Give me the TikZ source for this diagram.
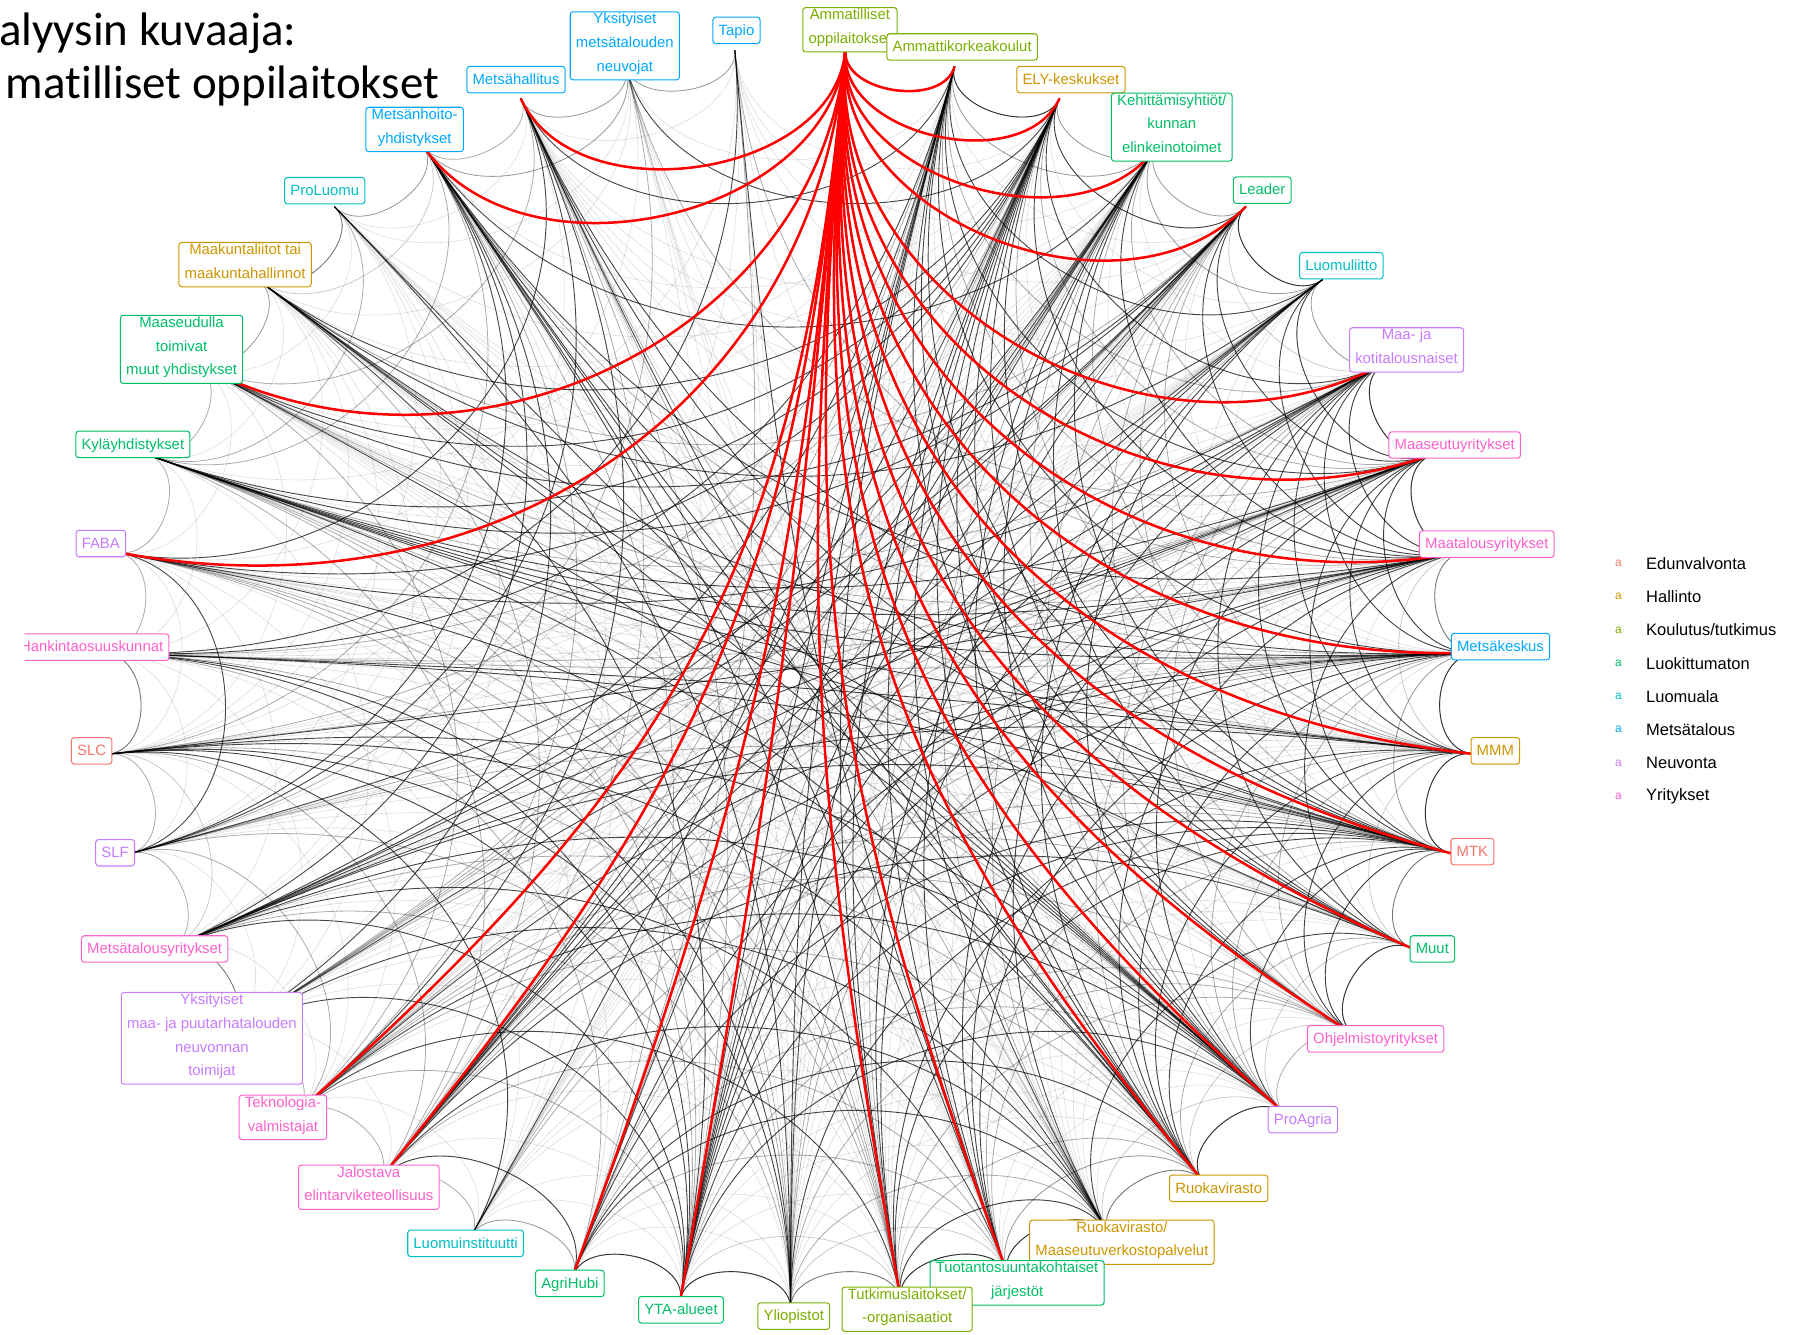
\documentclass[tikz,border=0pt]{standalone}
\usepackage{fontspec}
\setmainfont{Liberation Sans}
\newfontfamily\otsikkofont[Ligatures=NoCommon]{Carlito}
\usetikzlibrary{calc, positioning}

\definecolor{edu}{HTML}{F8766D}
\definecolor{hal}{HTML}{CD9600}
\definecolor{kou}{HTML}{7CAE00}
\definecolor{luo}{HTML}{00BE67}
\definecolor{lma}{HTML}{00BFC4}
\definecolor{met}{HTML}{00A9FF}
\definecolor{neu}{HTML}{C77CFF}
\definecolor{yri}{HTML}{FF61CC}

\newcommand\solmufont{\fontsize{13}{20.7}\selectfont}
\newcommand\selitefont{\fontsize{14.4}{17}\selectfont}
\newcommand\avainfont{\fontsize{10.5}{12}\selectfont}
\newcommand\otsikkokoko{\fontsize{41}{48}\selectfont}
% how busy each node is (0 = Ammatilliset oppilaitokset, drawn in red)
\def\painot{{0,9,9,8,8,6,7,8,9,8,8,9,7,5,9,8,8,7,8,7,9,5,4,5,5,5,5,4,5,4,4,5,5,5,3,5,4,3,3}}

% arc between two node points: both handles point to the middle
\newcommand\kaari[3]{%
  \pgfmathtruncatemacro\askel{mod(#2-#1+39,39)}%
  \pgfmathsetmacro\veto{0.85*(\askel<20 ? sin(\askel*180/39) : sin((39-\askel)*180/39))}%
  \draw[#3] (p#1) .. controls ($(p#1)!\veto!(keskus)$) and ($(p#2)!\veto!(keskus)$) .. (p#2);%
}

\tikzset{
  solmu/.style={draw=#1, text=#1, fill=white, rounded corners=2.5pt, line width=0.9pt,
    align=center, font=\solmufont, inner xsep=5pt, inner ysep=1.2pt,
    execute at begin node=\strut, execute at end node=\strut},
  ohut/.style={black, draw opacity=0.12, line width=0.6pt},
  harmaa/.style={black, draw opacity=0.33, line width=0.7pt},
  musta/.style={black, draw opacity=0.72, line width=0.8pt},
  punainen/.style={red, line width=2.2pt},
}

\begin{document}
\begin{tikzpicture}[x=1pt, y=-1pt]
\useasboundingbox (0,0) rectangle (1568,1165);
\coordinate (keskus) at (690,592);
\foreach \i in {0,...,38}
  \coordinate (p\i) at ($(keskus)+({85.4-360*\i/39}:600pt and 550pt)$);

\begin{scope}
\clip (21.5,0) rectangle (1568,1165);
% yhteydet
\foreach \i in {1,...,37} {
  \pgfmathtruncatemacro\k{\i+1}
  \foreach \j in {\k,...,38} {
    \pgfmathtruncatemacro\h{mod(mod(5*\i*\i,101)+mod(3*\j*\j+7*\i*\j,101)+11,101)}
    \pgfmathsetmacro\w{\painot[\i]*\painot[\j]/81}
    \pgfmathtruncatemacro\laji{\h/101 < 0.6*\w^1.3 ? 3 : (\h/101 < 0.6*\w^1.3+0.25*sqrt(\w) ? 2 : (\h/101 < 0.6*\w^1.3+0.7*sqrt(\w) ? 1 : 0))}
    \ifcase\laji\or\kaari{\i}{\j}{ohut}\or\kaari{\i}{\j}{harmaa}\or\kaari{\i}{\j}{musta}\fi
  }
}
% naapurien kaaret
\foreach \i in {1,...,37} {
  \pgfmathtruncatemacro\k{\i+1}
  \kaari{\i}{\k}{harmaa}
}
\foreach \i in {1,...,36} {
  \pgfmathtruncatemacro\k{\i+2}
  \kaari{\i}{\k}{ohut}
}
% Ammatilliset oppilaitokset
\foreach \j in {1,2,3,4,6,7,8,9,10,11,12,13,14,15,17,18,20,21,23,24,30,32,35,36}
  \kaari{0}{\j}{punainen};

\node[solmu=kou] (ammatilliset) at (742,26) {Ammatilliset\\oppilaitokset};
\node[solmu=kou] (amk) at (840,41) {Ammattikorkeakoulut};
\node[solmu=hal] (ely) at (935,69.5) {ELY-keskukset};
\node[solmu=luo] (kehittamis) at (1023,111) {Kehittämisyhtiöt/\\kunnan\\elinkeinotoimet};
\node[solmu=luo] (leader) at (1102,166) {Leader};
\node[solmu=lma] (luomuliitto) at (1171,232) {Luomuliitto};
\node[solmu=neu] (maaja) at (1228,305.5) {Maa- ja\\kotitalousnaiset};
\node[solmu=yri] (maaseutuyr) at (1270,388.5) {Maaseutuyritykset};
\node[solmu=yri] (maatalousyr) at (1298,475) {Maatalousyritykset};
\node[solmu=met] (metsakeskus) at (1310,564.5) {Metsäkeskus};
\node[solmu=hal] (mmm) at (1305.5,655.5) {MMM};
\node[solmu=edu] (mtk) at (1285.5,743.5) {MTK};
\node[solmu=luo] (muut) at (1250.5,828.5) {Muut};
\node[solmu=yri] (ohjelmisto) at (1201,907) {Ohjelmistoyritykset};
\node[solmu=neu] (proagria) at (1137.5,977.5) {ProAgria};
\node[solmu=hal] (ruokavirasto) at (1064,1037.5) {Ruokavirasto};
\node[solmu=hal] (verkosto) at (979.5,1084.5) {Ruokavirasto/\\Maaseutuverkostopalvelut};
\node[solmu=luo] (tuotanto) at (888,1120) {Tuotantosuuntakohtaiset\\järjestöt};
\node[solmu=kou] (tutkimus) at (792,1143) {Tutkimuslaitokset/\\-organisaatiot};
\node[solmu=kou] (yliopistot) at (693,1149) {Yliopistot};
\node[solmu=luo] (yta) at (594.5,1143.5) {YTA-alueet};
\node[solmu=luo] (agrihubi) at (497.5,1120.5) {AgriHubi};
\node[solmu=lma] (luomuinst) at (406.5,1085.5) {Luomuinstituutti};
\node[solmu=yri] (jalostava) at (322,1036.5) {Jalostava\\elintarviketeollisuus};
\node[solmu=yri] (teknologia) at (247,975.5) {Teknologia-\\valmistajat};
\node[solmu=neu] (yksneuvonta) at (185,906.5) {Yksityiset\\maa- ja puutarhatalouden\\neuvonnan\\toimijat};
\node[solmu=yri] (metsatalousyr) at (135,828.5) {Metsätalousyritykset};
\node[solmu=neu] (slf) at (100.5,744.5) {SLF};
\node[solmu=edu] (slc) at (80,655.5) {SLC};
\node[solmu=yri] (hankinta) at (80,565) {Hankintaosuuskunnat};
\node[solmu=neu] (faba) at (88,474.5) {FABA};
\node[solmu=luo] (kyla) at (116,388) {Kyläyhdistykset};
\node[solmu=luo] (maaseudulla) at (158.5,305) {Maaseudulla\\toimivat\\muut yhdistykset};
\node[solmu=hal] (maakunta) at (214,231) {Maakuntaliitot tai\\maakuntahallinnot};
\node[solmu=lma] (proluomu) at (283.5,166.5) {ProLuomu};
\node[solmu=met] (mhy) at (362,113) {Metsänhoito-\\yhdistykset};
\node[solmu=met] (metsahallitus) at (450.5,69.5) {Metsähallitus};
\node[solmu=met] (yksmetsa) at (545.5,40) {Yksityiset\\metsätalouden\\neuvojat};
\node[solmu=met] (tapio) at (643,26.5) {Tapio};
\end{scope}

% selite
\foreach \vari/\nimi [count=\k] in {edu/Edunvalvonta, hal/Hallinto, kou/{Koulutus/tutkimus},
    luo/Luokittumaton, lma/Luomuala, met/Metsätalous, neu/Neuvonta, yri/Yritykset} {
  \node[text=\vari, font=\avainfont, inner sep=0] (avain\k) at (1413,463+29*\k) {a};
  \node[anchor=west, font=\selitefont, inner sep=0] (selite\k) at (1437,463+29*\k) {\nimi};
}

\node[anchor=base west, inner sep=0, font=\otsikkofont\otsikkokoko] (otsikko1) at (-1,40) {alyysin kuvaaja:};
\node[anchor=base west, inner sep=0, font=\otsikkofont\otsikkokoko] (otsikko2) at (5,86) {matilliset oppilaitokset};
\end{tikzpicture}
\end{document}
